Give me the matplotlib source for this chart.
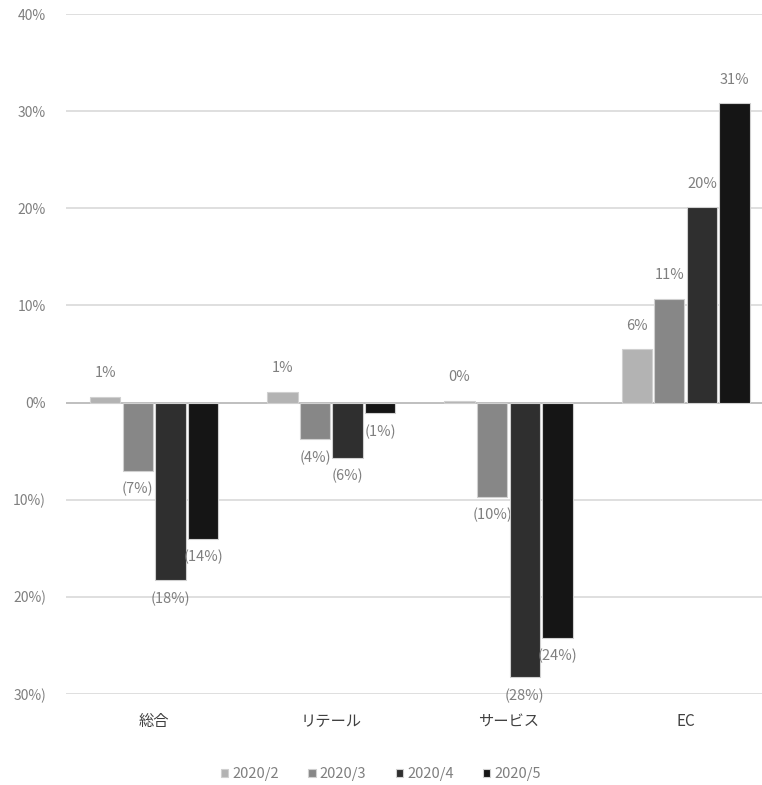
import matplotlib.pyplot as plt
import numpy as np

plt.rcParams['font.family'] = ['Noto Sans CJK JP', 'DejaVu Sans']

# data
categories = ['総合', 'リテール', 'サービス', 'EC']
series = ['2020/2', '2020/3', '2020/4', '2020/5']
v_feb = [0.6, 1.1, 0.2, 5.5]
v_mar = [-7.0, -3.8, -9.7, 10.7]
v_apr = [-18.3, -5.7, -28.3, 20.1]
v_may = [-14.0, -1.1, -24.2, 30.8]
labels_feb = ['1%', '1%', '0%', '6%']
labels_mar = ['(7%)', '(4%)', '(10%)', '11%']
labels_apr = ['(18%)', '(6%)', '(28%)', '20%']
labels_may = ['(14%)', '(1%)', '(24%)', '31%']
yticks = [-30, -20, -10, 0, 10, 20, 30, 40]
ytick_labels = ['30%)', '20%)', '10%)', '0%', '10%', '20%', '30%', '40%']

colors = ['#b3b3b3', '#878787', '#2f2f2f', '#151515']
txt = '#7f7f7f'

fig = plt.figure(figsize=(7.62, 7.85), dpi=100)
# axes runs past the right edge of the figure, as in the cropped original
ax = fig.add_axes([0.086, 0.116, 0.93, 0.866])

x = np.arange(len(categories))
w = 0.184
vals = [v_feb, v_mar, v_apr, v_may]
labs = [labels_feb, labels_mar, labels_apr, labels_may]
for i in range(4):
    pos = x + (i - 1.5) * w
    ax.bar(pos, vals[i], w * 0.93, color=colors[i], edgecolor='#d0d0d0', linewidth=0.8,
           label=series[i], zorder=3)
    for xp, v, s in zip(pos, vals[i], labs[i]):
        if v >= 0:
            ax.annotate(s, (xp, v), xytext=(0, 12), textcoords='offset points',
                        ha='center', va='bottom', color=txt, fontsize=10.5)
        else:
            ax.annotate(s, (xp, v), xytext=(0, -8), textcoords='offset points',
                        ha='center', va='top', color=txt, fontsize=10.5)

ax.set_xlim(-0.5, 3.5)
ax.set_ylim(-30, 40)
ax.set_yticks(yticks)
ax.set_yticklabels(ytick_labels)
ax.set_xticks(x)
ax.set_xticklabels(categories)
ax.grid(axis='y', color='#d9d9d9', linewidth=1.2, zorder=0)
ax.axhline(0, color='#c0c0c0', linewidth=1.4, zorder=2)
for s in ax.spines.values():
    s.set_visible(False)
ax.tick_params(axis='y', length=0, pad=14, labelcolor=txt, labelsize=10)
ax.tick_params(axis='x', length=0, pad=14, labelcolor='#404040', labelsize=11)

leg = fig.legend(loc='lower center', bbox_to_anchor=(0.5, -0.012), ncol=4, frameon=False,
                 handlelength=0.5, handleheight=0.5, handletextpad=0.3,
                 columnspacing=2.0, fontsize=10.5)
for t in leg.get_texts():
    t.set_color(txt)

fig.savefig('out.png', dpi=100)
